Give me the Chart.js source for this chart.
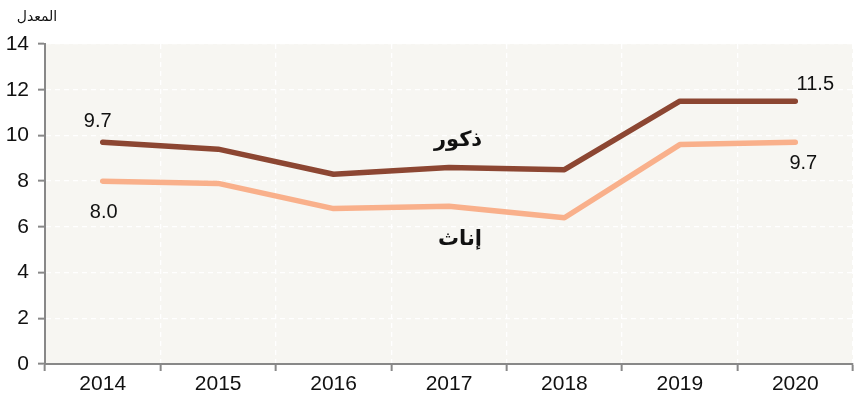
<!DOCTYPE html>
<html>
<head>
<meta charset="utf-8">
<script src="https://cdn.jsdelivr.net/npm/chart.js@4/dist/chart.umd.min.js"></script>
<style>
  html, body { margin: 0; padding: 0; background: #fff; }
  #wrap { width: 854px; height: 401px; }
</style>
</head>
<body>
<div id="wrap"><canvas id="chart"></canvas></div>
<script>
// data
const years = ['2014', '2015', '2016', '2017', '2018', '2019', '2020'];
const males = [9.7, 9.4, 8.3, 8.6, 8.5, 11.5, 11.5];
const females = [8.0, 7.9, 6.8, 6.9, 6.4, 9.6, 9.7];
const yTicks = [0, 2, 4, 6, 8, 10, 12, 14];

const maleColor = '#8c4632';
const femaleColor = '#f9b08b';

// plot background + text labels
const extras = {
  id: 'extras',
  beforeDraw(chart) {
    const { ctx, chartArea: a } = chart;
    ctx.save();
    ctx.fillStyle = '#f7f6f2';
    ctx.fillRect(a.left, a.top, a.right - a.left, a.bottom - a.top);
    ctx.restore();
  },
  afterDatasetsDraw(chart) {
    const { ctx } = chart;
    const x = chart.scales.x, y = chart.scales.y;
    ctx.save();
    ctx.fillStyle = '#111';
    ctx.textAlign = 'center';
    ctx.textBaseline = 'middle';
    ctx.font = '20px "Liberation Sans", Arial, sans-serif';
    const last = years.length - 1;
    ctx.fillText(males[0].toFixed(1), x.getPixelForValue(0) - 5, y.getPixelForValue(males[0]) - 21);
    ctx.fillText(females[0].toFixed(1), x.getPixelForValue(0) + 1, y.getPixelForValue(females[0]) + 31);
    ctx.fillText(males[last].toFixed(1), x.getPixelForValue(last) + 20, y.getPixelForValue(males[last]) - 17);
    ctx.fillText(females[last].toFixed(1), x.getPixelForValue(last) + 8, y.getPixelForValue(females[last]) + 21);

    ctx.font = 'bold 21px "DejaVu Sans", sans-serif';
    ctx.direction = 'rtl';
    ctx.fillText('ذكور', 458, 141);
    ctx.fillText('إناث', 460, 240);
    ctx.font = '14px "DejaVu Sans", sans-serif';
    ctx.fillText('المعدل', 37, 17);
    ctx.restore();
  }
};

const tickFont = { family: 'Liberation Sans', size: 21 };

new Chart(document.getElementById('chart'), {
  type: 'line',
  data: {
    labels: years,
    datasets: [
      { label: 'ذكور', data: males, borderColor: maleColor, borderWidth: 5.5, pointRadius: 0, borderCapStyle: 'round', borderJoinStyle: 'round', tension: 0 },
      { label: 'إناث', data: females, borderColor: femaleColor, borderWidth: 5.5, pointRadius: 0, borderCapStyle: 'round', borderJoinStyle: 'round', tension: 0 }
    ]
  },
  options: {
    responsive: true,
    maintainAspectRatio: false,
    animation: false,
    layout: { padding: { top: 44, right: 1, left: 0, bottom: 0 } },
    plugins: { legend: { display: false }, tooltip: { enabled: false } },
    scales: {
      x: {
        offset: true,
        grid: { offset: true, color: '#ffffff', lineWidth: 1.3, tickColor: '#888', tickLength: 7, tickBorderDash: [], tickWidth: 2 },
        border: { color: '#888', width: 2, dash: [5, 4] },
        ticks: { color: '#111', font: tickFont, padding: 1, maxRotation: 0 },
        afterFit(s) { s.height = 37; }
      },
      y: {
        min: 0, max: 14,
        afterBuildTicks(s) { s.ticks = yTicks.map(v => ({ value: v })); },
        grid: { color: '#ffffff', lineWidth: 1.3, tickColor: '#888', tickLength: 7, tickBorderDash: [], tickWidth: 2 },
        border: { color: '#888', width: 2, dash: [5, 4] },
        ticks: { color: '#111', font: tickFont, padding: 9 },
        afterFit(s) { s.width = 45; }
      }
    }
  },
  plugins: [extras]
});
</script>
</body>
</html>
